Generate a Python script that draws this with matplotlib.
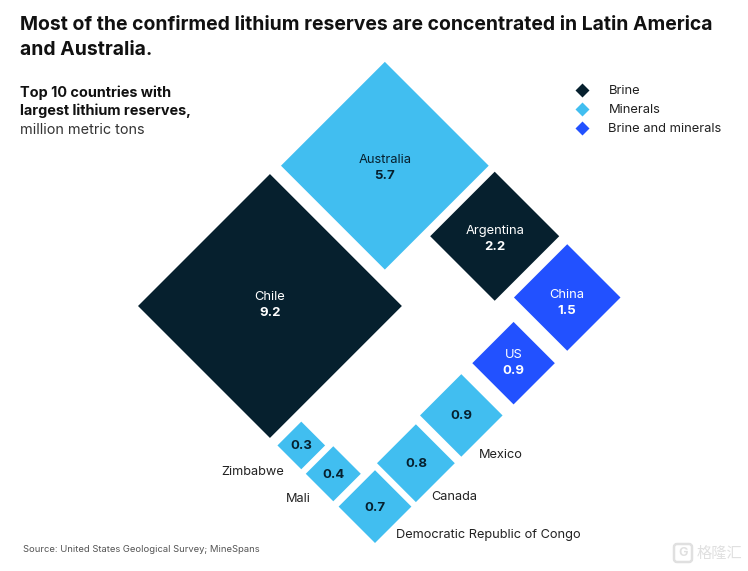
import numpy as np
import matplotlib
matplotlib.use("Agg")
import matplotlib.pyplot as plt
from matplotlib.lines import Line2D
from matplotlib.patches import Polygon, FancyBboxPatch

plt.rcParams['font.family'] = ['Inter', 'Noto Sans CJK SC', 'DejaVu Sans']

# data, walking round the frame of diamonds
countries = ["Chile", "Zimbabwe", "Mali", "Democratic Republic of Congo", "Canada",
             "Mexico", "US", "China", "Argentina", "Australia"]
reserves = [9.2, 0.3, 0.4, 0.7, 0.8, 0.9, 0.9, 1.5, 2.2, 5.7]
kinds = ["Brine", "Minerals", "Minerals", "Minerals", "Minerals",
         "Minerals", "Brine and minerals", "Brine and minerals", "Brine", "Minerals"]

colors = {"Brine": "#06202E", "Minerals": "#41BEF0", "Brine and minerals": "#2251FF"}

# size of the diamonds, half diagonal in pixels = scale * sqrt(value)
scale = 43.5
half = scale * np.sqrt(reserves)

# the diamonds sit inside a tilted frame, u = x + y and v = x - y
u_top, u_bottom = 444, 918
v_left, v_right = -168, 323

u = np.zeros(len(half))
v = np.zeros(len(half))

# left side: Chile to DRC
left = [0, 1, 2, 3]
left_gaps = [15, 9, 10.6, 0]
pos = u_top
for i, g in zip(left, left_gaps):
  u[i] = pos + half[i]
  v[i] = v_left + half[i]
  pos += 2 * half[i] + g

# bottom side: DRC to China
bottom = [3, 4, 5, 6, 7]
bottom_gaps = [9, 13, 22, 24.6, 0]
pos = v_left
for i, g in zip(bottom, bottom_gaps):
  v[i] = pos + half[i]
  u[i] = u_bottom - half[i]
  pos += 2 * half[i] + g

# right side: China up to Australia
right = [7, 8, 9]
right_gaps = [16, 12, 0]
pos = u_bottom
for i, g in zip(right, right_gaps):
  u[i] = pos - half[i]
  v[i] = v_right - half[i]
  pos -= 2 * half[i] + g

x = (u + v) / 2
y = (u - v) / 2

fig = plt.figure(figsize=(7.48, 5.71), dpi=100)
ax = fig.add_axes([0, 0, 1, 1])
ax.set_xlim(0, 748)
ax.set_ylim(571, 0)
ax.axis("off")

for i in range(len(countries)):
  d = Polygon([(x[i], y[i] - half[i]), (x[i] + half[i], y[i]),
               (x[i], y[i] + half[i]), (x[i] - half[i], y[i])],
              closed=True, facecolor=colors[kinds[i]], edgecolor="none")
  ax.add_patch(d)

# labels inside the diamond, small nudges to sit where the original has them
inside = {"Chile": -3, "Australia": 0, "Argentina": 1, "China": 3, "US": -2}
for i, name in enumerate(countries):
  txt_col = "white" if kinds[i] != "Minerals" else "#06202E"
  val = "%.1f" % reserves[i]
  if name in inside:
    nudge = inside[name]
    ax.text(x[i], y[i] - 6 + nudge, name, ha="center", va="center", fontsize=9.3, color=txt_col)
    ax.text(x[i], y[i] + 10 + nudge, val, ha="center", va="center", fontsize=9.5,
            fontweight="bold", color=txt_col)
  else:
    ax.text(x[i], y[i] + 1, val, ha="center", va="center", fontsize=9.5,
            fontweight="bold", color="#06202E")

# labels next to the small diamonds
ax.text(x[1] - 17, y[1] + 27, "Zimbabwe", ha="right", va="center", fontsize=9.2, color="#222222")
ax.text(x[2] - 23, y[2] + 25, "Mali", ha="right", va="center", fontsize=9.2, color="#222222")
ax.text(x[3] + 21, y[3] + 28, "Democratic Republic of Congo", ha="left", va="center",
        fontsize=9.2, color="#222222")
ax.text(x[4] + 15, y[4] + 34, "Canada", ha="left", va="center", fontsize=9.2, color="#222222")
ax.text(x[5] + 18, y[5] + 40, "Mexico", ha="left", va="center", fontsize=9.2, color="#222222")

# title and subtitle
ax.text(20, 25, "Most of the confirmed lithium reserves are concentrated in Latin America",
        ha="left", va="center", fontsize=13.95, fontweight="bold", color="#111111")
ax.text(20, 50, "and Australia.", ha="left", va="center", fontsize=13.95,
        fontweight="bold", color="#111111")
ax.text(20, 93, "Top 10 countries with", ha="left", va="center", fontsize=10.4,
        fontweight="bold", color="#111111")
ax.text(20, 111, "largest lithium reserves,", ha="left", va="center", fontsize=10.4,
        fontweight="bold", color="#111111")
ax.text(20, 130, "million metric tons", ha="left", va="center", fontsize=10.4, color="#333333")

# legend
handles = [Line2D([], [], linestyle="none", marker="D", markersize=7, color=colors[k],
                  markeredgecolor="none", label=k) for k in colors]
ax.legend(handles=handles, loc="upper left", bbox_to_anchor=(569 / 748, 1 - 85 / 571),
          bbox_transform=ax.transAxes, frameon=False, fontsize=9.3, labelcolor="#222222",
          handletextpad=1.05, labelspacing=0.55, borderpad=0, borderaxespad=0)

# source
ax.text(23, 549, "Source: United States Geological Survey; MineSpans", ha="left", va="center",
        fontsize=6.8, color="#555555")

# watermark
ax.add_patch(FancyBboxPatch((674, 544), 18, 18, boxstyle="round,pad=0,rounding_size=3",
                            facecolor="none", edgecolor="#e0e0e0", linewidth=1.8))
ax.text(683, 553, "G", ha="center", va="center", fontsize=9, color="#e0e0e0", fontweight="bold")
ax.text(697, 553, "格隆汇", ha="left", va="center", fontsize=11, color="#e0e0e0")

fig.savefig("out.png", dpi=100)
